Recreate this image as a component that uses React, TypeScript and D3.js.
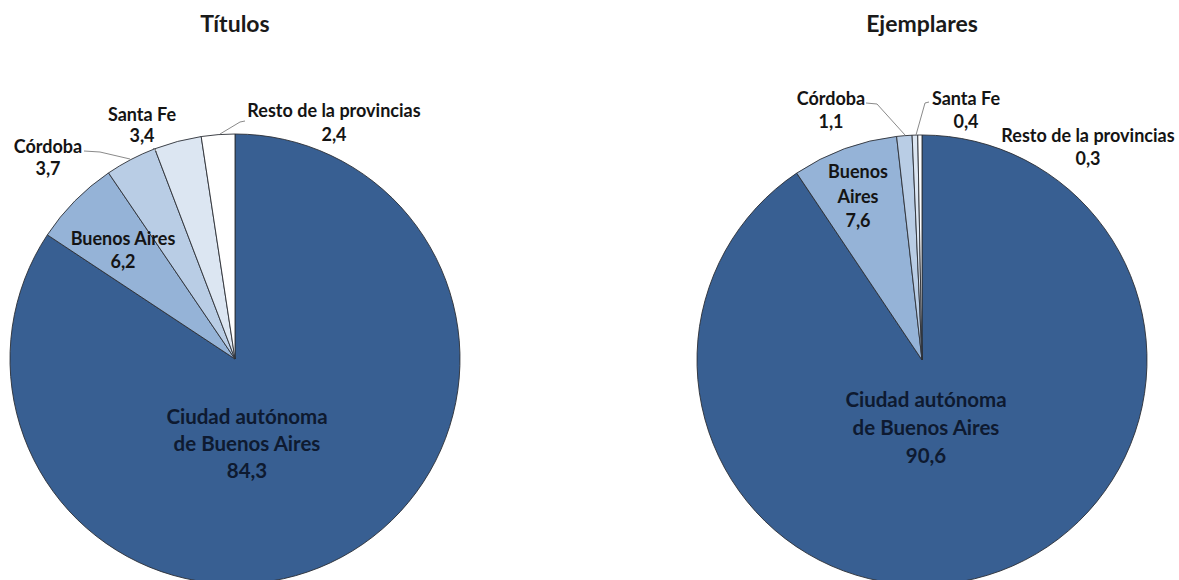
import React from "react";
import * as d3 from "d3";

const categories = ["Ciudad autónoma de Buenos Aires", "Buenos Aires", "Córdoba", "Santa Fe", "Resto de la provincias"];
const titulosValues = [84.3, 6.2, 3.7, 3.4, 2.4];
const ejemplaresValues = [90.6, 7.6, 1.1, 0.4, 0.3];
const chartTitles = ["Títulos", "Ejemplares"];

const colors = ["#385f92", "#95b3d7", "#b9cde5", "#dce6f2", "#ffffff"];
const FONT = "Lato, 'Open Sans', sans-serif";

type LabelLayout = { lines: string[]; x: number; y: number; dy: number; size: number; leader?: [number, number][] };

const fmt = (v: number) => v.toFixed(1).replace(".", ",");

const charts = [
  {
    title: chartTitles[0],
    values: titulosValues,
    cx: 235,
    cy: 359,
    r: 225,
    titleY: 32,
    labels: [
      { lines: ["Ciudad autónoma", "de Buenos Aires"], x: 247, y: 424, dy: 27, size: 20.5 },
      { lines: ["Buenos Aires"], x: 123, y: 245, dy: 23, size: 18 },
      { lines: ["Córdoba"], x: 48, y: 153, dy: 22, size: 18, leader: [[84, 151], [100, 152], [130, 159]] },
      { lines: ["Santa Fe"], x: 142, y: 121, dy: 21, size: 18, leader: [[153, 148], [157, 152]] },
      { lines: ["Resto de la provincias"], x: 334, y: 117, dy: 24, size: 18, leader: [[245, 121], [240, 122], [220, 134]] },
    ] as LabelLayout[],
  },
  {
    title: chartTitles[1],
    values: ejemplaresValues,
    cx: 922,
    cy: 360,
    r: 225,
    titleY: 32,
    labels: [
      { lines: ["Ciudad autónoma", "de Buenos Aires"], x: 926, y: 407, dy: 28, size: 20.5 },
      { lines: ["Buenos", "Aires"], x: 858, y: 178, dy: 24.5, size: 18 },
      { lines: ["Córdoba"], x: 831, y: 105, dy: 23, size: 18, leader: [[866, 103], [877, 104], [905, 135]] },
      { lines: ["Santa Fe"], x: 966, y: 105, dy: 23, size: 18, leader: [[929, 102], [925, 103], [916, 135]] },
      { lines: ["Resto de la provincias"], x: 1088, y: 142, dy: 23, size: 18 },
    ] as LabelLayout[],
  },
];

function Pie({ chart }: { chart: (typeof charts)[number] }) {
  const pie = d3.pie<number>().sort(null).value((d) => d);
  const arcs = pie(chart.values);
  const arc = d3.arc<d3.PieArcDatum<number>>().innerRadius(0).outerRadius(chart.r);
  return (
    <g>
      <text
        x={chart.cx}
        y={chart.titleY}
        textAnchor="middle"
        fontFamily={FONT}
        fontWeight={700}
        fontSize={23}
        fill="#1a1a1a"
      >
        {chart.title}
      </text>
      <g transform={`translate(${chart.cx},${chart.cy})`}>
        {arcs.map((a, i) => (
          <path key={categories[i]} d={arc(a) || ""} fill={colors[i]} stroke="#2b2f36" strokeWidth={0.9} />
        ))}
      </g>
      {chart.labels.map((l, i) =>
        l.leader ? (
          <polyline
            key={"ld" + i}
            points={l.leader.map((p) => p.join(",")).join(" ")}
            fill="none"
            stroke="#8a8a8a"
            strokeWidth={1}
          />
        ) : null
      )}
      {chart.labels.map((l, i) => {
        const lines = [...l.lines, fmt(chart.values[i])];
        return (
          <text
            key={"lb" + i}
            textAnchor="middle"
            fontFamily={FONT}
            fontWeight={700}
            fontSize={l.size}
            fill={i === 0 ? "#0e1a30" : "#141414"}
          >
            {lines.map((t, j) => (
              <tspan key={j} x={l.x} y={l.y + j * l.dy}>
                {t}
              </tspan>
            ))}
          </text>
        );
      })}
    </g>
  );
}

export default function App() {
  return (
    <svg
      width={1179}
      height={580}
      style={{ position: "absolute", left: 0, top: 0, background: "#fff" }}
    >
      <rect width={1179} height={580} fill="#fff" />
      {charts.map((c) => (
        <Pie key={c.title} chart={c} />
      ))}
    </svg>
  );
}
